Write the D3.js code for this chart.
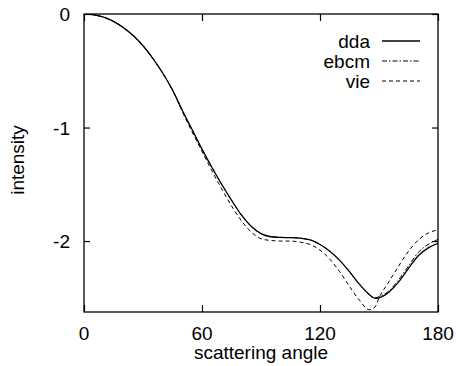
<!DOCTYPE html>
<html>
<head>
<meta charset="utf-8">
<script src="https://cdn.jsdelivr.net/npm/d3@7"></script>
<style>
  body { margin: 0; background: #fff; }
  svg { display: block; }
  text { font-family: "Liberation Sans", Arial, sans-serif; fill: #000; }
</style>
</head>
<body>
<div id="chart"></div>
<script>
var width = 456
var height = 366
var margin = { top: 14, right: 18, bottom: 54, left: 84 };

// scattering angle (degrees)
var angles = [0, 5, 10, 15, 20, 25, 30, 35, 40, 45, 50, 55, 60, 65, 70, 75, 80, 85, 90, 95,
    100, 105, 110, 115, 120, 125, 130, 135, 140, 145, 148, 150, 155, 160, 165, 170, 175, 180];

var dda = [0, -0.007, -0.028, -0.065, -0.12, -0.19, -0.28, -0.39, -0.52, -0.67, -0.85, -1.02, -1.19,
    -1.35, -1.50, -1.64, -1.77, -1.87, -1.935, -1.962, -1.968, -1.97, -1.975, -1.99, -2.03, -2.09,
    -2.17, -2.27, -2.38, -2.47, -2.505, -2.50, -2.45, -2.36, -2.24, -2.13, -2.06, -2.02];

var ebcm = [0, -0.007, -0.028, -0.065, -0.12, -0.19, -0.28, -0.39, -0.52, -0.67, -0.85, -1.02, -1.19,
    -1.35, -1.50, -1.64, -1.77, -1.87, -1.935, -1.962, -1.968, -1.97, -1.975, -1.99, -2.03, -2.09,
    -2.17, -2.27, -2.38, -2.47, -2.50, -2.49, -2.44, -2.34, -2.22, -2.10, -2.03, -1.985];

var vie = [0, -0.007, -0.028, -0.065, -0.12, -0.19, -0.28, -0.39, -0.52, -0.67, -0.86, -1.04, -1.21,
    -1.38, -1.54, -1.69, -1.82, -1.92, -1.98, -1.995, -2.0, -2.0, -2.01, -2.03, -2.08, -2.16,
    -2.27, -2.40, -2.52, -2.605, -2.58, -2.50, -2.36, -2.22, -2.09, -1.99, -1.93, -1.90];

var xTicks = [0, 60, 120, 180];
var yTicks = [0, -1, -2];
var legendNames = ["dda", "ebcm", "vie"];
var dashes = [null, "5,2,1.5,2", "4,3"];

var svg = d3.select("#chart").append("svg")
    .attr("width", width)
    .attr("height", height);

var xScale = d3.scaleLinear()
    .domain([0, 180])
    .range([margin.left, width - margin.right]);

var yScale = d3.scaleLinear()
    .domain([-2.625, 0])
    .range([height - margin.bottom, margin.top]);

svg.append("clipPath").attr("id", "plotclip")
    .append("rect")
    .attr("x", margin.left)
    .attr("y", margin.top)
    .attr("width", width - margin.left - margin.right)
    .attr("height", height - margin.top - margin.bottom);

// axes with inward ticks, mirrored
svg.append("g")
    .attr("transform", "translate(0," + (height - margin.bottom) + ")")
    .call(d3.axisBottom(xScale).tickValues(xTicks).tickSize(-7).tickFormat(""))
    .call(function(g) { g.select(".domain").remove(); });

svg.append("g")
    .attr("transform", "translate(0," + margin.top + ")")
    .call(d3.axisTop(xScale).tickValues(xTicks).tickSize(-7).tickFormat(""))
    .call(function(g) { g.select(".domain").remove(); });

svg.append("g")
    .attr("transform", "translate(" + margin.left + ",0)")
    .call(d3.axisLeft(yScale).tickValues(yTicks).tickSize(-6).tickFormat(""))
    .call(function(g) { g.select(".domain").remove(); });

svg.append("g")
    .attr("transform", "translate(" + (width - margin.right) + ",0)")
    .call(d3.axisRight(yScale).tickValues(yTicks).tickSize(-6).tickFormat(""))
    .call(function(g) { g.select(".domain").remove(); });

svg.selectAll(".tick line").attr("stroke", "#000").attr("stroke-width", 1.2);

svg.append("rect")
    .attr("x", margin.left)
    .attr("y", margin.top)
    .attr("width", width - margin.left - margin.right)
    .attr("height", height - margin.top - margin.bottom)
    .attr("fill", "none")
    .attr("stroke", "#000")
    .attr("stroke-width", 1.3);

// tick labels
svg.selectAll(".xlab").data(xTicks).enter().append("text")
    .attr("x", function(d) { return xScale(d); })
    .attr("y", 340)
    .attr("text-anchor", "middle")
    .style("font-size", "19px")
    .text(function(d) { return d; });

svg.selectAll(".ylab").data(yTicks).enter().append("text")
    .attr("x", 70)
    .attr("y", function(d) { return yScale(d) + 7; })
    .attr("text-anchor", "end")
    .style("font-size", "19px")
    .text(function(d) { return d; });

svg.append("text")
    .attr("x", (margin.left + width - margin.right) / 2)
    .attr("y", 359)
    .attr("text-anchor", "middle")
    .style("font-size", "19px")
    .text("scattering angle");

svg.append("text")
    .attr("transform", "translate(24," + 160 + ") rotate(-90)")
    .attr("text-anchor", "middle")
    .style("font-size", "19px")
    .text("intensity");

// curves
var series = [dda, ebcm, vie];
var line = d3.line()
    .x(function(d) { return xScale(d[0]); })
    .y(function(d) { return yScale(d[1]); })
    .curve(d3.curveMonotoneX);

series.forEach(function(vals, i) {
    svg.append("path")
        .datum(angles.map(function(a, j) { return [a, vals[j]]; }))
        .attr("clip-path", "url(#plotclip)")
        .attr("fill", "none")
        .attr("stroke", "#000")
        .attr("stroke-width", i == 0 ? 1.3 : 1)
        .attr("stroke-dasharray", dashes[i])
        .attr("d", line);
});

// legend
legendNames.forEach(function(name, i) {
    var by = 48 + i * 20;
    svg.append("text")
        .attr("x", 370)
        .attr("y", by)
        .attr("text-anchor", "end")
        .style("font-size", "19px")
        .text(name);
    svg.append("line")
        .attr("x1", 382)
        .attr("x2", 420)
        .attr("y1", by - 7)
        .attr("y2", by - 7)
        .attr("stroke", "#000")
        .attr("stroke-width", i == 0 ? 1.3 : 1)
        .attr("stroke-dasharray", dashes[i]);
});
</script>
</body>
</html>
